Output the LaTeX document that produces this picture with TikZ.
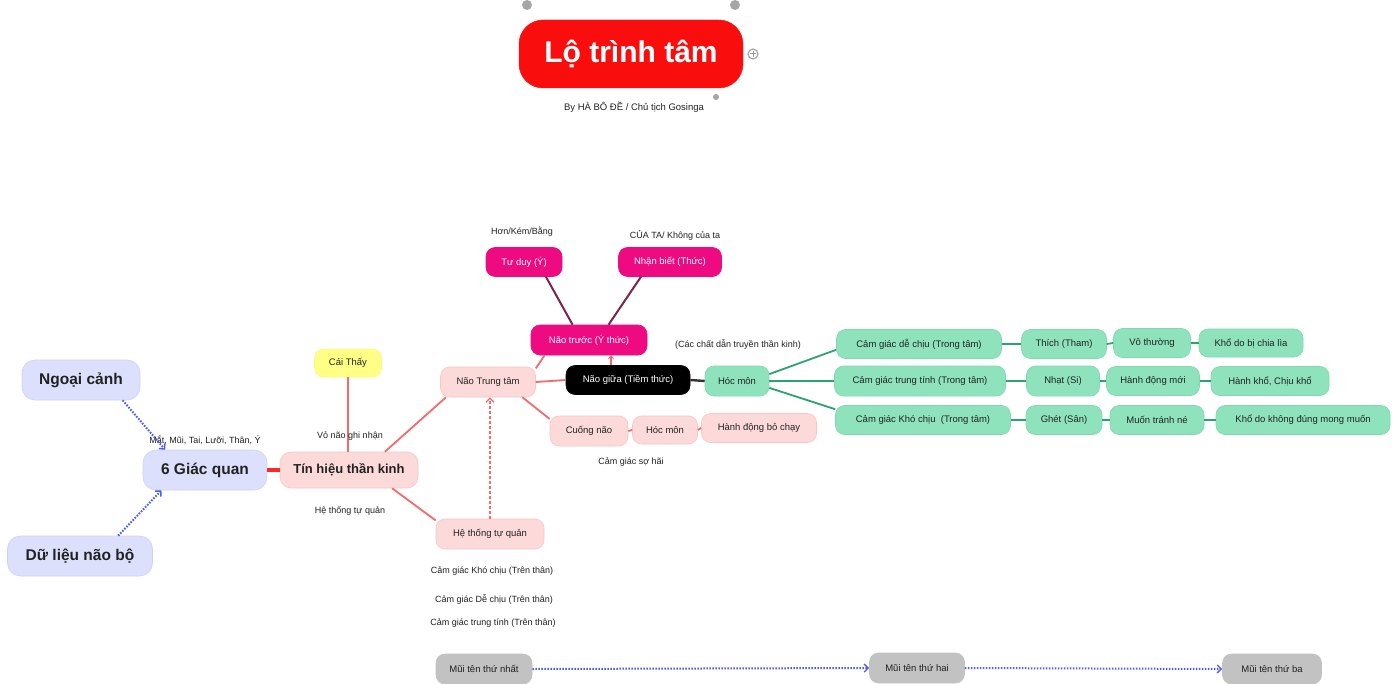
\documentclass[tikz,border=0pt]{standalone}
\usepackage{fontspec}
\setmainfont{Liberation Sans}
\usetikzlibrary{arrows.meta}
\definecolor{lav}{HTML}{DDE0FC}
\definecolor{lavd}{HTML}{CDD1F8}
\definecolor{pinkf}{HTML}{FDDADA}
\definecolor{pinkd}{HTML}{F9C6C6}
\definecolor{pinkl}{HTML}{F36A6A}
\definecolor{redt}{HTML}{FA0D0D}
\definecolor{magf}{HTML}{EE0A80}
\definecolor{maroon}{HTML}{7A2450}
\definecolor{grnf}{HTML}{8EE3BD}
\definecolor{grnd}{HTML}{7FD8B0}
\definecolor{grnl}{HTML}{2BA36E}
\definecolor{gryf}{HTML}{C2C2C2}
\definecolor{bluel}{HTML}{4B5CFF}
\definecolor{yelf}{HTML}{FFFF86}
\definecolor{txt}{HTML}{222222}
\newcommand{\smtxt}{\fontsize{9.5}{11}\selectfont}
\newcommand{\lbtxt}{\fontsize{9}{10.5}\selectfont}
\newcommand{\bigtxt}{\fontsize{15.5}{18}\selectfont\bfseries}
\begin{document}
\begin{tikzpicture}[x=1pt,y=-1pt,
  box/.style={rounded corners=9pt, minimum height=30pt, inner xsep=4pt, inner ysep=2pt, font=\smtxt, text=txt, line width=0.6pt},
  lavbox/.style={box, fill=lav, draw=lavd, font=\bigtxt, rounded corners=13pt, minimum height=40pt},
  pinkbox/.style={box, fill=pinkf, draw=pinkd},
  grnbox/.style={box, fill=grnf, draw=grnd},
  magbox/.style={box, fill=magf, draw=magf, text=white},
  grybox/.style={box, fill=gryf, draw=gryf},
  wd/.style={minimum width=#1pt},
  lbl/.style={font=\lbtxt, text=txt, inner sep=1pt},
  pinkline/.style={draw=pinkl, line width=1.8pt},
  grnline/.style={draw=grnl, line width=1.8pt},
  blued/.style={draw=bluel, line width=2pt, dash pattern=on 1.6pt off 1.4pt, -{Straight Barb[length=4pt,width=8pt,line width=1.4pt]}},
]
\useasboundingbox (0,0) rectangle (1396,684);
\fill[white] (0,0) rectangle (1396,684);

% title
\node[draw=redt, fill=redt, rounded corners=24pt, minimum width=224pt, minimum height=68pt, text=white, font=\fontsize{30}{34}\selectfont\bfseries] (title) at (631,54) {Lộ trình tâm};
\node[font=\fontsize{9.5}{11}\selectfont, text=txt] (sub) at (634,107) {By HÀ BÔ ĐỀ / Chủ tịch Gosinga};
\fill[gray!70] (527,5) circle (5pt);
\fill[gray!70] (735,5) circle (5pt);
\draw[gray!70, line width=1.2pt, fill=white] (753,54) circle (5pt);
\draw[gray!80, line width=1pt] (750,54) -- (756,54) (753,51) -- (753,57);
\fill[gray!70] (716,97) circle (3pt);

% left
\node[lavbox, wd=118] (ngoai) at (81,380) {Ngoại cảnh};
\node[lavbox, wd=124] (gq) at (205,470) {6 Giác quan};
\node[lavbox, wd=145] (du) at (80,556) {Dữ liệu não bộ};
\node[lbl] (lmat) at (205,440) {Mắt, Mũi, Tai, Lưỡi, Thân, Ý};
\draw[blued] (ngoai.-26) -- (gq.153);
\draw[blued] (du.28) -- (gq.205);

% tin hieu
\node[pinkbox, wd=138, minimum height=36pt, font=\fontsize{13}{15}\selectfont\bfseries, rounded corners=11pt] (tin) at (349,470) {Tín hiệu thần kinh};
\draw[draw=red!85!white, line width=4.5pt] (gq.east) -- (tin.west);
\node[box, fill=yelf, draw=yelf!90!black!20!yelf, wd=67, minimum height=28pt] (cai) at (348,363) {Cái Thấy};
\draw[pinkline] (cai.south) -- (cai.south |- tin.north);
\node[lbl] (lvo) at (350,436) {Vỏ não ghi nhận};
\node[lbl] (lhe) at (350,511) {Hệ thống tự quản};

\node[pinkbox, wd=95] (nt) at (488,382) {Não Trung tâm};
\node[pinkbox, wd=108] (ht) at (490,534) {Hệ thống tự quản};
\draw[pinkline] (tin.27) -- (nt.200);
\draw[pinkline] (tin.-23) -- (ht.166);
\draw[draw=pinkl, line width=1.6pt, densely dashed, -{Straight Barb[length=4pt,width=8pt,line width=1.3pt]}] (ht.north) -- (ht.north |- nt.south);
\node[lbl] (l1) at (492,571) {Cảm giác Khó chịu (Trên thân)};
\node[lbl] (l2) at (494,600) {Cảm giác Dễ chịu (Trên thân)};
\node[lbl] (l3) at (493,623) {Cảm giác trung tính (Trên thân)};

% nao truoc
\node[magbox, wd=116] (ntr) at (589,340) {Não trước (Ý thức)};
\node[magbox, wd=76, minimum height=29pt] (td) at (524,262) {Tư duy (Ý)};
\node[magbox, wd=103, minimum height=29pt] (nb) at (670,262) {Nhận biết (Thức)};
\node[lbl] (lhon) at (522,232) {Hơn/Kém/Bằng};
\node[lbl] (lcua) at (675,235) {CỦA TA/ Không của ta};
\draw[draw=maroon, line width=2pt] (td.-34) -- (ntr.137);
\draw[draw=maroon, line width=2pt] (nb.207) -- (ntr.38);
\draw[pinkline] (nt.16) -- (ntr.199);

% nao giua
\node[box, fill=black, draw=black, text=white, wd=124, minimum height=29pt] (ng) at (628,380) {Não giữa (Tiềm thức)};
\draw[pinkline] (nt.east) -- (ng.west);
\draw[draw=pinkl, line width=1.3pt, -{Straight Barb[length=2.5pt,width=5pt,line width=1.1pt]}] ([xshift=-17pt]ng.north) -- ([xshift=-17pt]ng.north |- ntr.south);

% cuong nao
\node[pinkbox, wd=78] (cn) at (589,431) {Cuống não};
\node[pinkbox, wd=65, minimum height=28pt] (hmp) at (665,430) {Hóc môn};
\node[pinkbox, wd=115, minimum height=29pt] (hd) at (759,428) {Hành động bỏ chạy};
\draw[pinkline] (nt.-24) -- (cn.163);
\draw[pinkline] (cn.east) -- (hmp.west);
\draw[pinkline] (hmp.east) -- (hd.west);
\node[lbl] (lso) at (631,462) {Cảm giác sợ hãi};

% hoc mon green
\node[grnbox, wd=64] (hmg) at (737,381) {Hóc môn};
\draw[draw=black!80, line width=2.4pt] (ng.east) -- (hmg.west);
\node[lbl] (lcac) at (738,345) {(Các chất dẫn truyền thần kinh)};

\node[grnbox, wd=165, minimum height=29pt] (cg1) at (919,344) {Cảm giác dễ chịu (Trong tâm)};
\node[grnbox, wd=171] (cg2) at (920,381) {Cảm giác trung tính (Trong tâm)};
\node[grnbox, wd=175, minimum height=29pt] (cg3) at (923,420) {Cảm giác Khó chịu\ \ (Trong tâm)};
\draw[grnline] (hmg.12) -- (cg1.184);
\draw[grnline] (hmg.east) -- (cg2.west);
\draw[grnline] (hmg.-12) -- (cg3.173);

\node[grnbox, wd=85, minimum height=29pt] (thich) at (1064,344) {Thích (Tham)};
\node[grnbox, wd=73] (nhat) at (1063,381) {Nhạt (Si)};
\node[grnbox, wd=76, minimum height=29pt] (ghet) at (1064,420) {Ghét (Sân)};
\node[grnbox, wd=77, minimum height=29pt] (vt) at (1152,343) {Vô thường};
\node[grnbox, wd=93, minimum height=29pt] (hdm) at (1153,381) {Hành động mới};
\node[grnbox, wd=94, minimum height=29pt] (mtn) at (1157,420) {Muốn tránh né};
\node[grnbox, wd=104, minimum height=28pt] (kcl) at (1251,343) {Khổ do bị chia lìa};
\node[grnbox, wd=118, minimum height=29pt] (hk) at (1270,381) {Hành khổ, Chịu khổ};
\node[grnbox, wd=174, minimum height=29pt] (kkd) at (1303,420) {Khổ do không đúng mong muốn};
\draw[grnline] (cg1.east) -- (thich.west);
\draw[grnline] (thich.east) -- (vt.west);
\draw[grnline] (vt.east) -- (kcl.west);
\draw[grnline] (cg2.east) -- (nhat.west);
\draw[grnline] (nhat.east) -- (hdm.west);
\draw[grnline] (hdm.east) -- (hk.west);
\draw[grnline] (cg3.east) -- (ghet.west);
\draw[grnline] (ghet.east) -- (mtn.west);
\draw[grnline] (mtn.east) -- (kkd.west);

% bottom
\node[grybox, wd=96] (m1) at (484,669) {Mũi tên thứ nhất};
\node[grybox, wd=95] (m2) at (917,668) {Mũi tên thứ hai};
\node[grybox, wd=99] (m3) at (1272,669) {Mũi tên thứ ba};
\draw[blued] (m1.east) -- (m2.west);
\draw[blued] (m2.east) -- (m3.west);
\end{tikzpicture}
\end{document}
